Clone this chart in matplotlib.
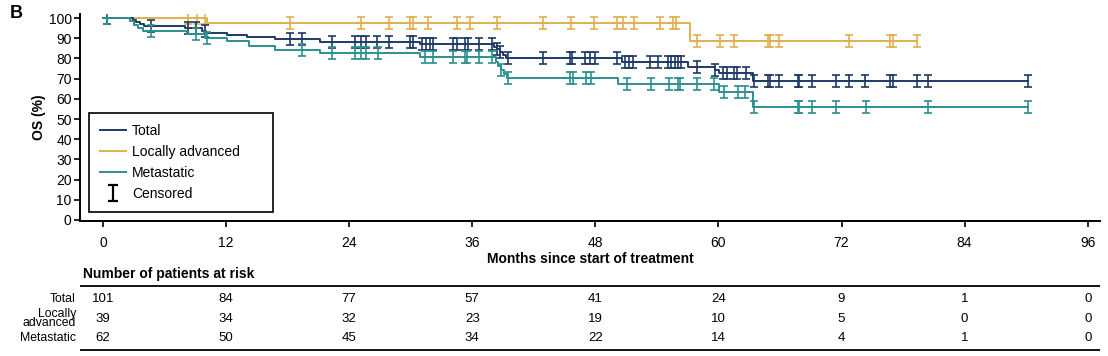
import numpy as np
import matplotlib.pyplot as plt
from matplotlib.path import Path
from matplotlib.lines import Line2D
from matplotlib import transforms

plt.rcParams["font.family"] = ["Liberation Sans", "DejaVu Sans"]

# Kaplan-Meier steps: time of each drop (months) and OS (%) after it
total_times = [0, 2.9, 3.2, 3.6, 4.0, 8.0, 9.7, 10.0, 12.1, 14.0, 16.8, 21.2, 30.9,
               38.1, 38.4, 38.7, 39.0, 39.3, 50.6, 57.0, 59.7, 60.1, 63.4]
total_surv = [100, 99.0, 98.0, 97.0, 96.0, 94.9, 93.8, 92.7, 91.6, 90.5, 89.4, 88.3, 87.1,
              85.8, 84.5, 83.1, 81.8, 80.4, 78.4, 75.8, 74.1, 72.9, 69.0]
total_end = 90.2
total_cens = [0.4, 4.7, 8.3, 9.1, 9.9, 18.2, 19.4, 22.3, 24.6, 25.2, 25.6, 26.7, 27.9,
              29.9, 30.2, 31.1, 31.5, 31.9, 32.2, 34.1, 34.5, 35.3, 35.6, 36.7, 37.9,
              38.4, 38.7, 39.5, 42.9, 45.5, 45.7, 47.0, 47.5, 48.0, 50.1, 50.9, 51.3,
              51.7, 53.3, 54.1, 55.1, 55.4, 55.8, 56.1, 56.4, 57.9, 59.7, 60.4, 60.8,
              61.5, 61.8, 62.7, 63.5, 64.8, 65.0, 65.9, 67.8, 67.9, 69.1, 71.5, 72.7,
              74.3, 76.7, 77.0, 79.4, 80.4, 90.2]

locally_times = [0, 10.1, 57.2]
locally_surv = [100, 97.4, 88.8]
locally_end = 79.4
locally_cens = [8.3, 9.2, 9.9, 18.2, 25.2, 27.9, 29.9, 30.2, 31.7, 34.5, 35.8, 38.4,
                42.9, 45.6, 47.9, 50.1, 50.7, 51.8, 54.3, 55.6, 55.9, 57.9, 60.2, 61.5,
                64.8, 65.0, 65.9, 72.7, 76.7, 77.0, 79.4]

meta_times = [0, 2.6, 3.0, 3.4, 3.9, 8.2, 9.9, 12.1, 14.2, 16.8, 21.2, 30.9,
              38.3, 38.5, 38.8, 39.1, 39.4, 50.2, 60.1, 63.4]
meta_surv = [100, 98.4, 96.8, 95.2, 93.5, 91.9, 90.2, 88.5, 86.4, 84.3, 82.8, 80.5,
             78.4, 76.4, 74.3, 72.2, 70.1, 67.3, 63.2, 56.1]
meta_end = 90.2
meta_cens = [0.4, 4.7, 9.1, 10.1, 19.4, 22.3, 24.6, 25.2, 25.6, 26.8, 31.4, 32.2,
             34.1, 35.3, 35.5, 36.7, 37.9, 38.8, 39.5, 45.5, 45.8, 47.1, 47.6, 51.1,
             53.4, 55.2, 56.1, 56.3, 57.9, 59.6, 60.5, 61.9, 62.6, 63.5, 67.8, 67.9,
             69.1, 71.5, 74.4, 80.4, 90.2]

# number at risk table
risk_times = [0, 12, 24, 36, 48, 60, 72, 84, 96]
risk_total = [101, 84, 77, 57, 41, 24, 9, 1, 0]
risk_locally = [39, 34, 32, 23, 19, 10, 5, 0, 0]
risk_meta = [62, 50, 45, 34, 22, 14, 4, 1, 0]
risk_labels = ["Total", "Locally\nadvanced", "Metastatic"]

NAVY = "#1f3a68"
GOLD = "#e0b050"
TEAL = "#2b9090"

# censor tick: vertical bar with caps
CENSOR = Path([(-0.35, 0.5), (0.35, 0.5), (0, 0.5), (0, -0.5), (-0.35, -0.5), (0.35, -0.5)],
              [Path.MOVETO, Path.LINETO, Path.MOVETO, Path.LINETO, Path.MOVETO, Path.LINETO])


def km(ax, times, surv, end, cens, color, z):
    t = list(times) + [end]
    s = list(surv) + [surv[-1]]
    ax.step(t, s, where="post", color=color, lw=1.4, zorder=z)
    idx = np.searchsorted(times, cens, side="right") - 1
    ax.plot(cens, np.asarray(surv)[idx], ls="none", marker=CENSOR, ms=8,
            mew=1.2, mec=color, zorder=z)


W, H = 1108, 356
fig = plt.figure(figsize=(W / 100, H / 100), dpi=100)
ax = fig.add_axes([80 / W, (H - 221) / H, 1020 / W, 207 / H])

km(ax, locally_times, locally_surv, locally_end, locally_cens, GOLD, 3)
km(ax, total_times, total_surv, total_end, total_cens, NAVY, 4)
km(ax, meta_times, meta_surv, meta_end, meta_cens, TEAL, 5)

xlim = (-2.24, 97.2)
ax.set_xlim(*xlim)
ax.set_ylim(-0.5, 102)
ax.set_xticks(risk_times)
ax.set_yticks(range(0, 101, 10))
ax.tick_params(direction="out", length=4.5, width=1.2, labelsize=10)
ax.tick_params(axis="x", pad=6)
ax.tick_params(axis="y", pad=1.5)
for side in ["top", "right"]:
    ax.spines[side].set_visible(False)
for side in ["left", "bottom"]:
    ax.spines[side].set_linewidth(1.4)
ax.set_xlabel("Months since start of treatment", fontsize=10, fontweight="bold", labelpad=2)
ax.set_ylabel("OS (%)", fontsize=10, fontweight="bold", labelpad=2)

handles = [Line2D([], [], color=NAVY, lw=1.4),
           Line2D([], [], color=GOLD, lw=1.4),
           Line2D([], [], color=TEAL, lw=1.4),
           Line2D([], [], ls="none", marker=CENSOR, ms=11, mew=1.6, mec="black")]
leg = ax.legend(handles, ["Total", "Locally advanced", "Metastatic", "Censored"],
                loc="lower left", bbox_to_anchor=(0.0088, 0.043, 0.18, 0.474), mode="expand",
                borderaxespad=0, fontsize=10, frameon=True, fancybox=False,
                edgecolor="black", framealpha=1, handlelength=1.9, handletextpad=0.4,
                labelspacing=0.5, borderpad=0.8, numpoints=1)
leg.get_frame().set_linewidth(1.2)

# risk table below the plot
axt = fig.add_axes([80 / W, 0, 1020 / W, 94 / H])
axt.set_xlim(*xlim)
axt.set_ylim(94, 0)
axt.axis("off")
tr = transforms.blended_transform_factory(axt.transAxes, axt.transData)
axt.text(0.003, 12, "Number of patients at risk", transform=tr, fontsize=10,
         fontweight="bold", va="center", ha="left")
axt.axhline(24, color="black", lw=1.3)
axt.axhline(88, color="black", lw=1.3)
row_y = [37, 56.5, 76]
for lab, counts, y in zip(risk_labels, [risk_total, risk_locally, risk_meta], row_y):
    axt.text(-0.004, y, lab, transform=tr, ha="right", va="center", fontsize=8.8,
             linespacing=0.75)
    for t, n in zip(risk_times, counts):
        axt.text(t, y, str(n), ha="center", va="center", fontsize=9.5)

fig.text(10 / W, 1 - 13 / H, "B", fontsize=13, fontweight="bold", va="center", ha="left")

fig.savefig("out.png", dpi=100)
